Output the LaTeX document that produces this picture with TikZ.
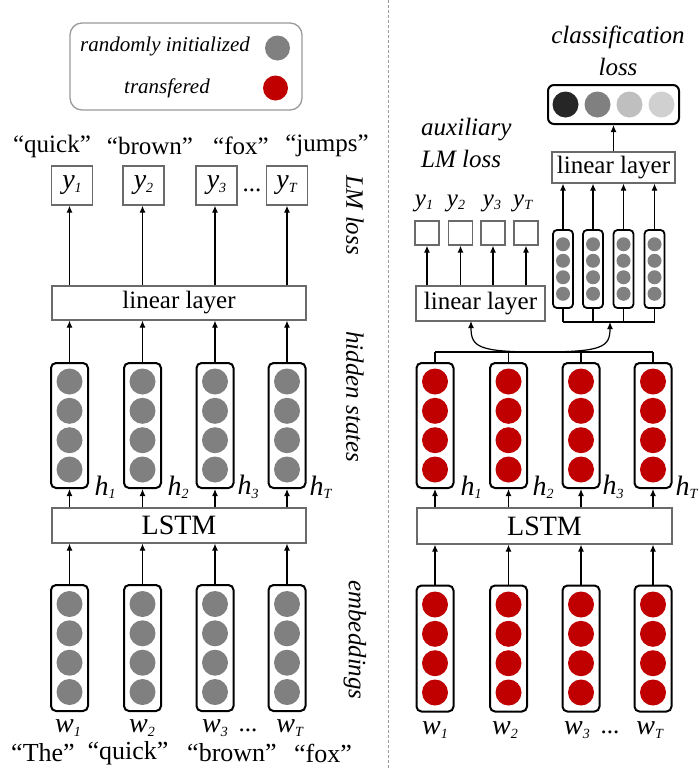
\documentclass[tikz,border=0pt]{standalone}
\usepackage{fontspec}
\setmainfont{Liberation Serif}
\usetikzlibrary{arrows.meta}

\definecolor{dotgray}{HTML}{808080}
\definecolor{dotred}{HTML}{C00000}
\definecolor{layergray}{HTML}{6A6A6A}
\definecolor{framegray}{HTML}{9A9A9A}
\definecolor{clsA}{HTML}{262626}
\definecolor{clsB}{HTML}{808080}
\definecolor{clsC}{HTML}{BFBFBF}
\definecolor{clsD}{HTML}{D0D0D0}

% italic symbol with a small italic index
\newcommand{\isub}[2]{\textit{#1}\raisebox{-0.12em}{\fontsize{14}{14}\selectfont\textit{#2}}}

\tikzset{
  arr/.style={-{Latex[length=7pt,width=6pt]}, line width=1.2pt},
  wire/.style={line width=1.2pt},
  vecbox/.style={draw, line width=2pt, rounded corners=5pt, minimum width=37pt,
    minimum height=125pt, inner sep=0pt},
  minivec/.style={draw, line width=1.8pt, rounded corners=4pt, minimum width=20pt,
    minimum height=78pt, inner sep=0pt},
  layer/.style={draw=layergray, line width=1.2pt, inner sep=0pt,
    font=\fontsize{25}{30}\selectfont},
  ybox/.style={draw=layergray, line width=1.3pt, inner sep=0pt},
  word/.style={font=\fontsize{25}{30}\selectfont, inner sep=0pt},
  sym/.style={font=\fontsize{28}{30}\selectfont, inner sep=0pt},
  symsm/.style={font=\fontsize{25}{30}\selectfont, inner sep=0pt},
  side/.style={font=\fontsize{25}{30}\selectfont\itshape, rotate=-90, inner sep=0pt},
  note/.style={font=\fontsize{25}{32}\selectfont\itshape, inner sep=0pt},
}

\begin{document}
\begin{tikzpicture}[x=1pt,y=-1pt]
\useasboundingbox (0,0) rectangle (700,769);

% ---------------- legend ----------------
\node[draw=framegray, line width=1.3pt, rounded corners=12pt, minimum width=232pt,
  minimum height=87pt, inner sep=0pt] (legend) at (186,66.5) {};
\node[font=\fontsize{21}{25}\selectfont\itshape, inner sep=0pt] (legrand) at (165,46) {randomly initialized};
\node[font=\fontsize{21}{25}\selectfont\itshape, inner sep=0pt] (legtrans) at (167,88) {transfered};
\fill[dotgray] (277.5,48) circle[radius=12.5pt];
\fill[dotred] (275.5,88) circle[radius=12.5pt];

% ---------------- left: language model ----------------
% output words
\node[word] (tq) at (52,146) {“quick”};
\node[word] (tb) at (150,146) {“brown”};
\node[word] (tf) at (241,146) {“fox”};
\node[word] (tj) at (327,146) {“jumps”};

% predicted tokens
\node[ybox, minimum width=41pt, minimum height=39pt, sym] (Ly1) at (72,185.5) {\isub{y}{1}};
\node[ybox, minimum width=41pt, minimum height=39pt, sym] (Ly2) at (143.5,185.5) {\isub{y}{2}};
\node[ybox, minimum width=41pt, minimum height=39pt, sym] (Ly3) at (216.5,185.5) {\isub{y}{3}};
\node[ybox, minimum width=41pt, minimum height=39pt, sym] (Ly4) at (287,185.5) {\isub{y}{T}};
\node[word] (Lydots) at (252,190) {...};

% layers
\node[layer, minimum width=254pt, minimum height=34pt] (llin) at (179,303) {linear layer};
\node[layer, minimum width=254pt, minimum height=35pt, font=\fontsize{28}{30}\selectfont] (llstm) at (179,525.5) {LSTM};

% hidden states and embeddings
\foreach \n/\x in {1/69.5,2/142.5,3/215,4/287} {
  \node[vecbox] (Lh\n) at (\x,425.5) {};
  \node[vecbox, minimum height=126pt] (Le\n) at (\x,648) {};
  \foreach \d in {-44,-14.7,14.7,44} {
    \fill[dotgray] (\x,425.5+\d) circle[radius=13pt];
    \fill[dotgray] (\x,648+\d) circle[radius=13pt];
  }
  \draw[arr] (Lh\n.north) -- (Lh\n.north |- llin.south);
  \draw[arr] (Lh\n.south |- llstm.north) -- (Lh\n.south);
  \draw[arr] (Le\n.north) -- (Le\n.north |- llstm.south);
  \draw[arr] (Lh\n.north |- llin.north) -- (Lh\n.north |- Ly\n.south);
}

\node[sym] (Lh1l) at (105,487) {\isub{h}{1}};
\node[sym] (Lh2l) at (178,487) {\isub{h}{2}};
\node[sym] (Lh3l) at (248,487) {\isub{h}{3}};
\node[sym] (Lh4l) at (321,487) {\isub{h}{T}};

\node[sym] (Lw1) at (68,728) {\isub{w}{1}};
\node[sym] (Lw2) at (142,728) {\isub{w}{2}};
\node[sym] (Lw3) at (215,728) {\isub{w}{3}};
\node[word] (Lwdots) at (248,730) {...};
\node[sym] (Lw4) at (290,728) {\isub{w}{T}};

\node[word, font=\fontsize{26}{30}\selectfont] (bt) at (43,753) {“The”};
\node[word, font=\fontsize{26}{30}\selectfont] (bq) at (128,753) {“quick”};
\node[word, font=\fontsize{26}{30}\selectfont] (bb) at (232,753) {“brown”};
\node[word, font=\fontsize{26}{30}\selectfont] (bf) at (323,753) {“fox”};

% side captions
\node[side] (capLM) at (355,215) {LM loss};
\node[side] (capHid) at (355,397) {hidden states};
\node[side] (capEmb) at (355,640) {embeddings};

% separator
\draw[framegray, line width=1pt, dash pattern=on 3pt off 2pt] (388,0) coordinate (sepT) -- (388,769) coordinate (sepB);

% ---------------- right: classifier with auxiliary LM ----------------
\node[note, align=center] (clscap) at (618,51) {classification\\loss};
\node[note, align=left, anchor=north west] (auxcap) at (421,118) {auxiliary\\LM loss};

% class scores
\node[draw, line width=2pt, rounded corners=6pt, minimum width=131pt, minimum height=39pt,
  inner sep=0pt] (clsbox) at (613.5,104.5) {};
\fill[clsA] (565.5,104.5) circle[radius=13pt];
\fill[clsB] (597.5,104.5) circle[radius=13pt];
\fill[clsC] (629.5,104.5) circle[radius=13pt];
\fill[clsD] (661.5,104.5) circle[radius=13pt];

\node[layer, minimum width=123pt, minimum height=31pt] (uplin) at (613.5,167.5) {linear layer};
\draw[arr] (uplin.north) -- (clsbox.south);

% pooled hidden states
\coordinate (clsbus) at (563,322);
\coordinate (clsin) at (610,322);
\foreach \n/\x in {1/563,2/593,3/623.5,4/654.5} {
  \node[minivec] (Rc\n) at (\x,269) {};
  \foreach \d in {-24.75,-8.25,8.25,24.75}
    \fill[dotgray] (\x,269+\d) circle[radius=7pt];
  \draw[arr] (Rc\n.north) -- (Rc\n.north |- uplin.south);
  \draw[wire] (Rc\n.south) -- (Rc\n.south |- clsbus);
}
\draw[wire] (Rc1.south |- clsbus) -- (Rc4.south |- clsbus);

% auxiliary LM head
\node[layer, minimum width=129pt, minimum height=35pt] (lowlin) at (480.5,303.5) {linear layer};
\foreach \n/\x in {1/427,2/460.5,3/493,4/526} {
  \node[ybox, minimum width=24pt, minimum height=24pt] (Ry\n) at (\x,233) {};
  \draw[arr] (Ry\n.south |- lowlin.north) -- (Ry\n.south);
}
\node[symsm] (Ry1l) at (424,203) {\isub{y}{1}};
\node[symsm] (Ry2l) at (456,203) {\isub{y}{2}};
\node[symsm] (Ry3l) at (492,203) {\isub{y}{3}};
\node[symsm] (Ry4l) at (523,203) {\isub{y}{T}};

\node[layer, minimum width=255pt, minimum height=36pt, font=\fontsize{28}{30}\selectfont] (rlstm) at (544.5,526) {LSTM};

\foreach \n/\x in {1/435,2/508.5,3/581,4/653} {
  \node[vecbox] (Rh\n) at (\x,425.5) {};
  \node[vecbox, minimum height=126pt] (Re\n) at (\x,648.5) {};
  \foreach \d in {-44,-14.7,14.7,44} {
    \fill[dotred] (\x,425.5+\d) circle[radius=13pt];
    \fill[dotred] (\x,648.5+\d) circle[radius=13pt];
  }
  \draw[arr] (Rh\n.south |- rlstm.north) -- (Rh\n.south);
  \draw[arr] (Re\n.north) -- (Re\n.north |- rlstm.south);
}

% shared bus from the hidden states, split to both heads
\coordinate (hbus) at (435,352);
\coordinate (split) at (540,352);
\coordinate (auxin) at (471,321);
\foreach \n in {1,...,4}
  \draw[wire] (Rh\n.north) -- (Rh\n.north |- hbus);
\draw[wire] (Rh1.north |- hbus) -- (Rh4.north |- hbus);
\draw[arr] (split) .. controls (478,352) and (471,347) .. (auxin);
\draw[arr] (split) .. controls (603,352) and (610,347) .. (clsin);

\node[sym] (Rh1l) at (471,487) {\isub{h}{1}};
\node[sym] (Rh2l) at (543,487) {\isub{h}{2}};
\node[sym] (Rh3l) at (613,487) {\isub{h}{3}};
\node[sym] (Rh4l) at (687,487) {\isub{h}{T}};

\node[sym] (Rw1) at (435,730) {\isub{w}{1}};
\node[sym] (Rw2) at (505,730) {\isub{w}{2}};
\node[sym] (Rw3) at (577,730) {\isub{w}{3}};
\node[word] (Rwdots) at (610,732) {...};
\node[sym] (Rw4) at (650,730) {\isub{w}{T}};
\end{tikzpicture}
\end{document}
